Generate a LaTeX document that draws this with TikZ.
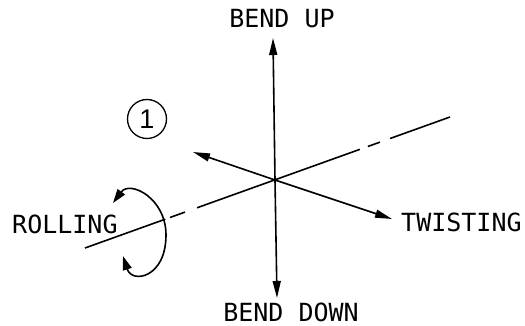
\documentclass[tikz,border=0pt]{standalone}
\usepackage{fontspec}
\setmonofont{DejaVu Sans Mono}
\setsansfont{Liberation Sans}
\usetikzlibrary{arrows.meta,calc}
\tikzset{
  axisline/.style={line width=1.6pt},
  bendarrow/.style={line width=1.6pt, -{Triangle[length=17pt,width=8pt]}},
  lettering/.style={font=\ttfamily\fontsize{25}{30}\selectfont, inner sep=0pt}
}
\begin{document}
\begin{tikzpicture}[x=1pt,y=-1pt]
\useasboundingbox (0,0) rectangle (525,326);
\coordinate (centre) at (275,180);
\coordinate (uptip) at (273,38);
\coordinate (downtip) at (277,298);
\coordinate (twistback) at (193,152);
\coordinate (twisttip) at (392,219);
\coordinate (axisleft) at (85,248);
\coordinate (axisright) at (450,117);

\node[lettering] (bendup) at (282,19) {BEND UP};
\node[lettering] (benddown) at (291,312) {BEND DOWN};
\node[lettering, anchor=west] (twisting) at (401,222) {TWISTING};
\node[lettering, anchor=west] (rolling) at (12,224) {ROLLING};
\node[draw, circle, line width=1.3pt, minimum size=39pt, inner sep=0pt,
      font=\sffamily\fontsize{27}{30}\selectfont] (one) at (147,119) {1};

% bending and twisting
\draw[bendarrow] (centre) -- (uptip);
\draw[bendarrow] (centre) -- (downtip);
\draw[bendarrow] (centre) -- (twistback);
\draw[bendarrow] (centre) -- (twisttip);

% long axis, broken
\draw[axisline] (axisleft) -- ($(axisleft)!0.22!(axisright)$);
\draw[axisline] ($(axisleft)!0.233!(axisright)$) -- ($(axisleft)!0.274!(axisright)$);
\draw[axisline] ($(axisleft)!0.307!(axisright)$) -- ($(axisleft)!0.753!(axisright)$);
\draw[axisline] ($(axisleft)!0.775!(axisright)$) -- ($(axisleft)!0.808!(axisright)$);
\draw[axisline] ($(axisleft)!0.836!(axisright)$) -- (axisright);

% rolling
\draw[line width=1.6pt, {Triangle[length=14pt,width=9pt]}-{Triangle[length=14pt,width=9pt]}]
  (113,203) .. controls (130,180) and (166,198) .. (166,235)
  .. controls (166,278) and (132,284) .. (123,256);
\end{tikzpicture}
\end{document}
